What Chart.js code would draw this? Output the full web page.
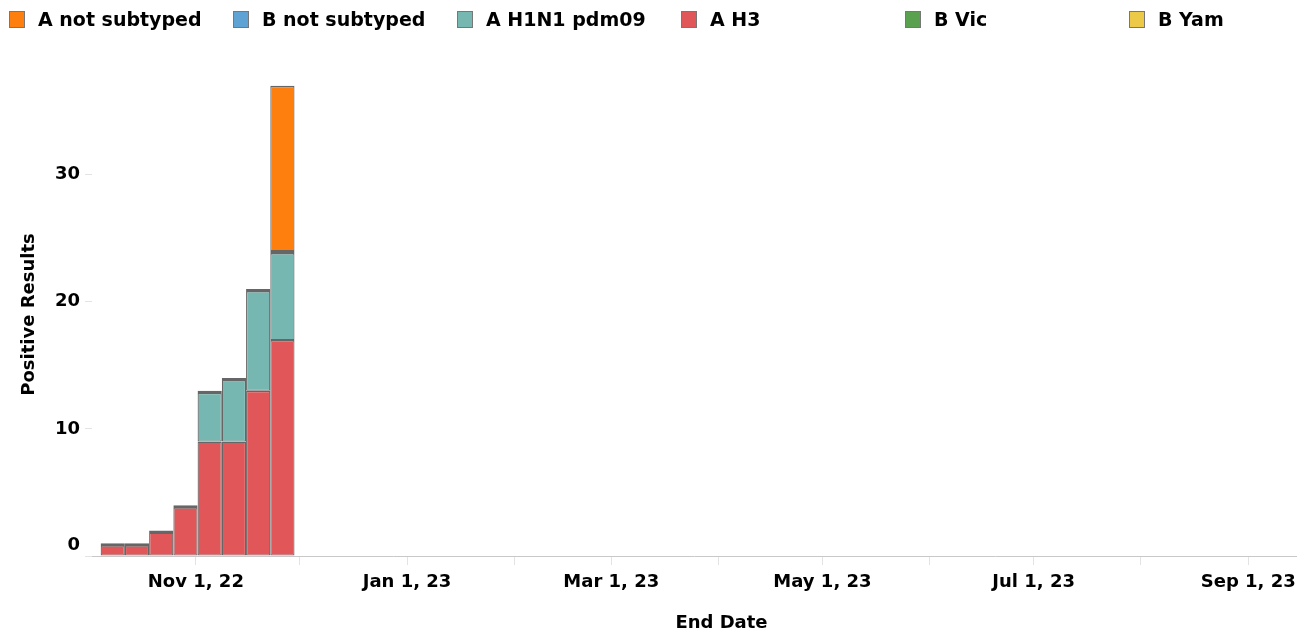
<!DOCTYPE html>
<html><head><meta charset="utf-8">
<script src="https://cdn.jsdelivr.net/npm/chart.js@4.4.1/dist/chart.umd.min.js"></script>
<style>
html,body{margin:0;padding:0;background:#fff;}
#wrap{position:relative;width:1303px;height:635px;}
#c{position:absolute;left:0;top:0;}
#legend{position:absolute;left:9px;top:8px;display:flex;font:bold 19px "DejaVu Sans", sans-serif;color:#000;}
.item{width:224px;display:flex;align-items:center;white-space:nowrap;}
.box{width:16px;height:17px;border:1px solid #777;margin-right:13px;box-sizing:border-box;flex:none;}
#xtitle{position:absolute;left:0;width:1443px;top:611px;text-align:center;font:bold 18px "DejaVu Sans", sans-serif;color:#000;}
</style></head>
<body>
<div id="wrap"><canvas id="c" width="1303" height="635"></canvas><div id="legend"></div><div id="xtitle"></div></div>
<script>
// ---- data ----
const endDates = ['2022-10-08','2022-10-15','2022-10-22','2022-10-29','2022-11-05','2022-11-12','2022-11-19','2022-11-26'];
const aH3          = [1, 1, 2, 4, 9, 9, 13, 17];
const aH1N1pdm09   = [0, 0, 0, 0, 4, 5, 8, 7];
const aNotSubtyped = [0, 0, 0, 0, 0, 0, 0, 13];
const bNotSubtyped = [0, 0, 0, 0, 0, 0, 0, 0];
const bVic         = [0, 0, 0, 0, 0, 0, 0, 0];
const bYam         = [0, 0, 0, 0, 0, 0, 0, 0];
const legendOrder  = ['A not subtyped','B not subtyped','A H1N1 pdm09','A H3','B Vic','B Yam'];
const xTickDates   = ['2022-11-01','2022-12-01','2023-01-01','2023-02-01','2023-03-01','2023-04-01','2023-05-01','2023-06-01','2023-07-01','2023-08-01','2023-09-01'];
const xTickLabels  = ['Nov 1, 22','','Jan 1, 23','','Mar 1, 23','','May 1, 23','','Jul 1, 23','','Sep 1, 23'];
const yTicks       = [0, 10, 20, 30];
const xRange       = ['2022-10-02','2023-09-15'];
const xTitle       = 'End Date';
const yTitle       = 'Positive Results';

// ---- styles ----
const COLORS = {
  'A not subtyped': '#ff7f0e',
  'B not subtyped': '#5fa2d4',
  'A H1N1 pdm09':   '#76b7b2',
  'A H3':           '#e15759',
  'B Vic':          '#59a14f',
  'B Yam':          '#edc948'
};
const FONT = '"DejaVu Sans", sans-serif';

function pts(arr){ return endDates.map((d,i)=>({x: Date.parse(d), y: arr[i] ? arr[i] : null})); }

// stacking order bottom -> top
const stackSeries = [
  ['A H3', aH3],
  ['A H1N1 pdm09', aH1N1pdm09],
  ['A not subtyped', aNotSubtyped],
  ['B not subtyped', bNotSubtyped],
  ['B Vic', bVic],
  ['B Yam', bYam]
];

function borderFor(name){
  return (ctx) => {
    const i = ctx.dataIndex;
    const v = ctx.raw ? ctx.raw.y : 0;
    if (!v) return 0;
    let top = 1.5;
    if (name === 'A H3' && !aH1N1pdm09[i]) top = 3.5;
    if (name === 'A H1N1 pdm09') top = 3.5;
    return {top: top, left: 1.2, right: 1.2, bottom: 1};
  };
}

const datasets = stackSeries.map(([name, arr]) => ({
  label: name,
  data: pts(arr),
  backgroundColor: COLORS[name],
  borderColor: '#666666',
  borderWidth: borderFor(name),
  borderSkipped: false,
  inflateAmount: 0,
  stack: 's',
  categoryPercentage: 1,
  barPercentage: 1
}));

// HTML legend
const lg = document.getElementById('legend');
legendOrder.forEach(n => {
  const it = document.createElement('div'); it.className = 'item';
  const b = document.createElement('span'); b.className = 'box'; b.style.background = COLORS[n];
  const t = document.createElement('span'); t.textContent = n;
  it.appendChild(b); it.appendChild(t); lg.appendChild(it);
});
document.getElementById('xtitle').textContent = xTitle;

new Chart(document.getElementById('c'), {
  type: 'bar',
  data: { datasets },
  options: {
    responsive: false,
    animation: false,
    layout: { padding: { top: 73, right: 6, left: 0, bottom: 0 } },
    plugins: { legend: { display: false }, tooltip: { enabled: false } },
    scales: {
      x: {
        type: 'linear',
        stacked: true,
        offset: false,
        min: Date.parse(xRange[0]),
        max: Date.parse(xRange[1]),
        afterBuildTicks: (s) => { s.ticks = xTickDates.map(d => ({ value: Date.parse(d) })); },
        afterFit: (s) => { s.height = 79; },
        ticks: {
          autoSkip: false, maxRotation: 0, padding: 7, color: '#000',
          font: { family: FONT, size: 18, weight: 'bold' },
          callback: (v, i) => xTickLabels[i]
        },
        grid: { offset: false, drawOnChartArea: false, drawTicks: true, tickLength: 9, color: '#e3e3e3' },
        border: { display: true, dash: [3, 3], color: '#c8c8c8' },
        title: { display: false }
      },
      y: {
        stacked: true,
        min: 0, max: 38,
        afterBuildTicks: (s) => { s.ticks = yTicks.map(v => ({ value: v })); },
        afterFit: (s) => { s.width = 92; },
        ticks: {
          padding: 5, color: '#000', font: { family: FONT, size: 18, weight: 'bold' },
          // the lowest label sits just above the baseline, as in the source
          callback: (v) => v === yTicks[0] ? [String(v), ''] : String(v)
        },
        grid: { drawOnChartArea: false, drawTicks: true, tickLength: 7, color: '#e3e3e3' },
        border: { display: false },
        title: { display: true, text: yTitle, color: '#000', padding: { top: 19, bottom: 0 },
                 font: { family: FONT, size: 18, weight: 'bold' } }
      }
    }
  }
});
</script>
</body></html>
